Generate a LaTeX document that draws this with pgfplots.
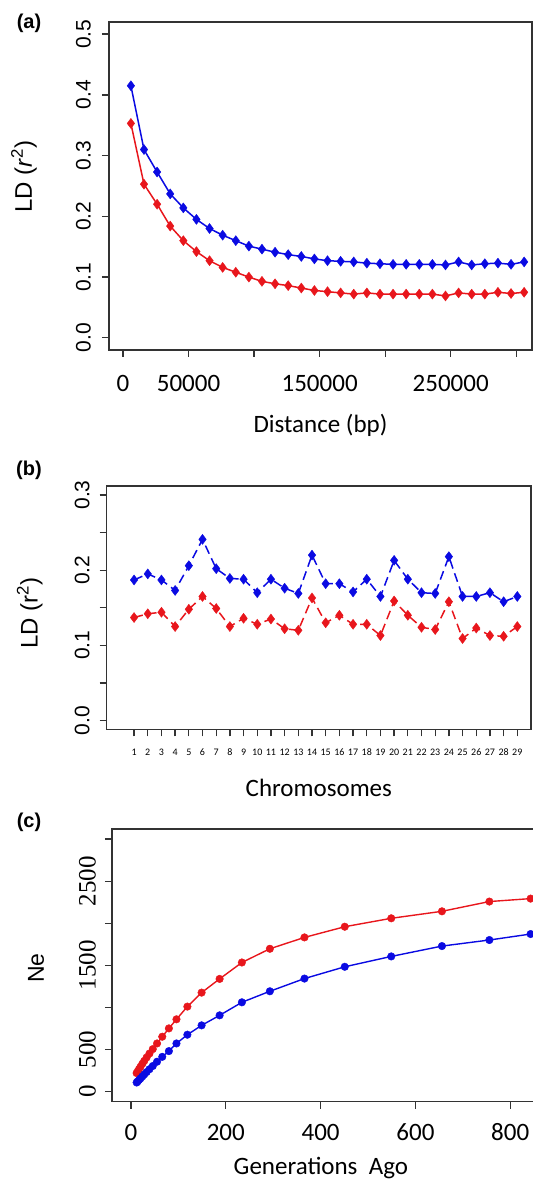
\documentclass[border=0pt]{standalone}
\usepackage{fontspec}
\setmainfont{Carlito}
\newfontfamily\arialf{Liberation Sans}
\newfontfamily\timesf{Liberation Serif}
\usepackage{pgfplots}
\pgfplotsset{compat=1.18}
\definecolor{myred}{RGB}{232,22,28}
\definecolor{myblue}{RGB}{10,10,226}
\pgfplotsset{
  rbase/.style={
    scale only axis, anchor=south west,
    axis line style={black!80, line width=1.3pt},
    every tick/.style={black!80, line width=1.3pt},
    tick align=outside, major tick length=7pt, minor tick num=0,
    tick pos=left, scaled x ticks=false, scaled y ticks=false,
    xticklabel style={anchor=north, inner sep=0pt, font=\fontsize{25}{30}\selectfont},
    yticklabel style={rotate=90, anchor=south, inner sep=0pt, font=\arialf\fontsize{21}{25}\selectfont},
    xlabel style={anchor=center, inner sep=0pt, font=\fontsize{25}{30}\selectfont},
    ylabel style={anchor=center, inner sep=0pt, font=\arialf\fontsize{24}{28}\selectfont},
  },
  ldline/.style={line width=1.5pt, mark=diamond*, mark size=5pt, mark options={solid, line width=0.4pt}},
  neline/.style={line width=1.4pt, mark=*, mark size=3.8pt, mark options={solid, line width=0.4pt}},
}
\pgfplotstableread{
x blue red
6000 0.415 0.353
16000 0.310 0.253
26000 0.273 0.220
36000 0.237 0.184
46000 0.214 0.160
56000 0.195 0.142
66000 0.180 0.127
76000 0.169 0.116
86000 0.160 0.108
96000 0.151 0.100
106000 0.146 0.093
116000 0.141 0.089
126000 0.137 0.086
136000 0.134 0.082
146000 0.130 0.078
156000 0.127 0.076
166000 0.126 0.074
176000 0.125 0.072
186000 0.123 0.074
196000 0.122 0.072
206000 0.121 0.072
216000 0.121 0.072
226000 0.121 0.072
236000 0.121 0.072
246000 0.120 0.069
256000 0.125 0.074
266000 0.120 0.072
276000 0.122 0.072
286000 0.123 0.075
296000 0.121 0.073
306000 0.125 0.075
}\tabA
\pgfplotstableread{
x blue red
1 0.187 0.137
2 0.195 0.142
3 0.187 0.144
4 0.173 0.125
5 0.206 0.148
6 0.241 0.165
7 0.202 0.149
8 0.189 0.125
9 0.188 0.136
10 0.170 0.128
11 0.188 0.135
12 0.176 0.122
13 0.169 0.120
14 0.220 0.163
15 0.182 0.130
16 0.182 0.140
17 0.171 0.128
18 0.188 0.128
19 0.165 0.113
20 0.213 0.159
21 0.188 0.140
22 0.170 0.124
23 0.169 0.121
24 0.218 0.158
25 0.165 0.109
26 0.165 0.123
27 0.170 0.113
28 0.158 0.112
29 0.165 0.125
}\tabB
\pgfplotstableread{
x blue red
12 108 220
14 120 239
17 138 267
20 156 294
24 180 330
28 203 364
33 232 405
39 266 452
46 304 505
55 355 572
66 413 652
80 481 751
96 572 859
119 676 1010
149 787 1176
187 906 1339
234 1061 1534
293 1192 1697
366 1343 1832
451 1483 1959
549 1606 2059
656 1729 2142
756 1801 2258
843 1872 2293
}\tabC
\begin{document}
\begin{tikzpicture}[x=1pt,y=1pt]
\useasboundingbox (0,0) rectangle (533,1179);
\clip (0,0) rectangle (533,1179);
% ---------------- (a)
\begin{axis}[rbase, at={(109pt,829pt)}, width=423pt, height=328pt,
  xmin=-10700, xmax=312000, ymin=-0.02, ymax=0.52,
  xtick={0,50000,100000,150000,200000,250000,300000},
  xticklabels={{0},{50000},{},{150000},{},{250000},{}},
  ytick={0,0.1,0.2,0.3,0.4,0.5},
  yticklabels={0.0,0.1,0.2,0.3,0.4,0.5},
  xticklabel shift=18pt, yticklabel shift=11pt,
  xlabel={Distance (bp)},
  xlabel style={at={([yshift=-75pt]axis description cs:0.5,0)}},
  ylabel={LD (\textit{r}\textsuperscript{2})},
  ylabel style={at={([xshift=-85pt]axis description cs:0,0.528)}},
]
\addplot[ldline, myblue] table[x=x, y=blue] {\tabA};
\addplot[ldline, myred] table[x=x, y=red] {\tabA};
\end{axis}
% ---------------- (b)
\begin{axis}[rbase, at={(106.7pt,449.5pt)}, width=424.3pt, height=243.5pt,
  xmin=-1, xmax=30, ymin=-0.012, ymax=0.312,
  xtick={1,...,29},
  xticklabels={1,2,3,4,5,6,7,8,9,10,11,12,13,14,15,16,17,18,19,20,21,22,23,24,25,26,27,28,29},
  xticklabel style={font=\fontsize{10}{12}\selectfont},
  ytick={0,0.05,0.1,0.15,0.2,0.25,0.3},
  yticklabels={0.0,,0.1,,0.2,,0.3},
  xticklabel shift=12pt, yticklabel shift=10pt,
  xlabel={Chromosomes},
  xlabel style={at={([yshift=-58pt]axis description cs:0.5,0)}},
  ylabel={LD (r\textsuperscript{2})},
  ylabel style={at={([xshift=-77pt]axis description cs:0,0.477)}},
]
\addplot[ldline, myblue, dash pattern=on 9pt off 5pt] table[x=x, y=blue] {\tabB};
\addplot[ldline, myred, dash pattern=on 9pt off 5pt] table[x=x, y=red] {\tabB};
\end{axis}
% ---------------- (c)
\begin{axis}[rbase, at={(112pt,77.3pt)}, width=512pt, height=272.7pt,
  xmin=-40, xmax=1040, ymin=-120, ymax=3120,
  xtick={0,200,400,600,800},
  xticklabels={0,200,400,600,800},
  ytick={0,500,1000,1500,2000,2500,3000},
  yticklabels={0,500,,1500,,2500,},
  yticklabel style={font=\timesf\fontsize{25}{30}\selectfont},
  xticklabel shift=15pt, yticklabel shift=9pt,
  xlabel={Generations~~Ago},
  xlabel style={at={([yshift=-66pt]axis description cs:0.408,0)}},
  ylabel={Ne},
  ylabel style={at={([xshift=-76pt]axis description cs:0,0.49)}, font=\arialf\fontsize{23}{27}\selectfont},
]
\addplot[neline, myred] table[x=x, y=red] {\tabC};
\addplot[neline, myblue] table[x=x, y=blue] {\tabC};
\end{axis}
\node[font=\arialf\bfseries\fontsize{20}{24}\selectfont] at (29,1156) {(a)};
\node[font=\arialf\bfseries\fontsize{20}{24}\selectfont] at (29,709) {(b)};
\node[font=\arialf\bfseries\fontsize{20}{24}\selectfont] at (29,357) {(c)};
\end{tikzpicture}
\end{document}
